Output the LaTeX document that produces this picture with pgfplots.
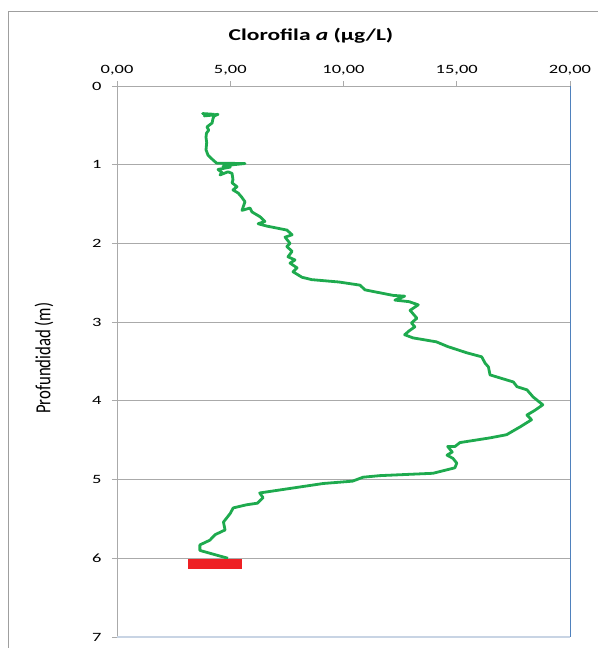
\documentclass[border=0pt]{standalone}
\usepackage{pgfplots}
\pgfplotsset{compat=1.18}
\usepackage{fontspec}
\setmainfont{Carlito}
\definecolor{linegreen}{RGB}{30,170,78}
\definecolor{barred}{RGB}{238,32,36}
\definecolor{gridgray}{RGB}{170,170,170}
\definecolor{rightblue}{RGB}{79,129,189}
\definecolor{bottomblue}{RGB}{200,212,228}
\begin{document}
\begin{tikzpicture}
\path[use as bounding box] (0bp,0bp) rectangle (598bp,-648bp);
\draw[gray!75,line width=0.9bp] (8bp,-648bp) -- (8bp,-11bp) -- (598bp,-11bp);
\node at (311bp,-36bp) {\scalebox{1.42}[1]{\fontsize{16.6}{18}\selectfont\bfseries Clorofila \textit{a} (µg/L)}};
\begin{axis}[
  at={(117bp,-86bp)}, anchor=north west,
  scale only axis, width=453bp, height=551bp,
  xmin=0, xmax=20, ymin=0, ymax=7,
  y dir=reverse,
  axis x line*=top, axis y line*=left,
  axis line style={draw=gridgray, line width=0.8bp},
  tick align=outside,
  major tick length=5bp,
  tick style={draw=gridgray, line width=0.8bp},
  xtick={0,5,10,15,20}, ytick={0,1,2,3,4,5,6,7},
  ymajorgrids, grid style={draw=gridgray, line width=0.8bp},
  /pgf/number format/assume math mode=true,
  xticklabel={\scalebox{1.46}[1]{\fontsize{12.7}{14}\selectfont\pgfmathprintnumber[fixed,fixed zerofill,precision=2,use comma]{\tick}}},
  yticklabel={\scalebox{1.46}[1]{\fontsize{12.7}{14}\selectfont\pgfmathprintnumber[fixed,precision=0]{\tick}}},
  xticklabel style={yshift=2bp},
  yticklabel style={xshift=-7bp},
  ylabel={\scalebox{1.05}[1.35]{\fontsize{16}{18}\selectfont Profundidad (m)}},
  ylabel style={at={(axis description cs:-0.161,0.506)}, anchor=center},
  clip=false,
]
\draw[rightblue, line width=0.9bp] (axis cs:20,0) -- (axis cs:20,7);
\draw[bottomblue, line width=1.2bp] (axis cs:0,7) -- (axis cs:20,7.0);
\addplot[linegreen, line width=2.8bp, line join=round, mark=none] coordinates {
(4.3,0.36)(3.78,0.35)(4.2,0.37)(3.85,0.38)(4.46,0.36)(4.3,0.38)(4.24,0.41)(4.2,0.47)(3.97,0.52)(4.05,0.56)(3.95,0.60)(3.93,0.65)(3.96,0.72)(3.93,0.81)(4.02,0.88)(4.24,0.94)(4.4,0.98)(5.65,0.985)(5.12,1.0)(4.68,1.02)(5.0,1.03)(4.46,1.06)(4.64,1.10)(4.55,1.13)(4.9,1.09)(5.08,1.11)(5.12,1.19)(5.08,1.23)(5.3,1.28)(5.12,1.32)(5.35,1.36)(5.5,1.41)(5.65,1.47)(5.52,1.58)(5.87,1.55)(5.96,1.6)(6.31,1.66)(6.53,1.72)(6.23,1.75)(6.62,1.78)(7.5,1.83)(7.73,1.89)(7.42,1.92)(7.64,2.0)(7.5,2.04)(7.73,2.1)(7.55,2.17)(7.86,2.21)(7.64,2.25)(7.95,2.31)(7.77,2.36)(8.17,2.43)(8.6,2.46)(9.8,2.49)(10.73,2.53)(10.95,2.59)(12.19,2.66)(12.7,2.67)(12.27,2.72)(12.9,2.74)(13.3,2.78)(12.94,2.85)(13.24,2.95)(13.0,3.01)(13.15,3.06)(12.9,3.11)(12.7,3.16)(13.07,3.2)(14.1,3.25)(14.6,3.31)(15.45,3.39)(16.1,3.44)(16.25,3.52)(16.4,3.57)(16.47,3.67)(17.5,3.76)(17.66,3.82)(18.1,3.86)(18.37,3.95)(18.8,4.05)(18.45,4.12)(18.1,4.18)(18.3,4.24)(17.8,4.33)(17.2,4.43)(16.47,4.47)(15.14,4.53)(14.92,4.58)(14.6,4.58)(14.8,4.65)(14.57,4.69)(14.83,4.73)(15.0,4.79)(14.92,4.85)(13.95,4.92)(11.6,4.95)(10.86,4.97)(10.4,5.02)(9.1,5.05)(6.3,5.17)(6.45,5.23)(6.2,5.3)(5.72,5.32)(5.13,5.36)(5.0,5.43)(4.7,5.54)(4.77,5.64)(4.33,5.70)(4.1,5.77)(3.66,5.83)(3.66,5.9)(4.4,5.96)(4.9,6.0)
};
\addplot[fill=barred, draw=none, mark=none] coordinates {(3.13,6.01)(5.52,6.01)(5.52,6.14)(3.13,6.14)} -- cycle;
\end{axis}
\end{tikzpicture}
\end{document}
